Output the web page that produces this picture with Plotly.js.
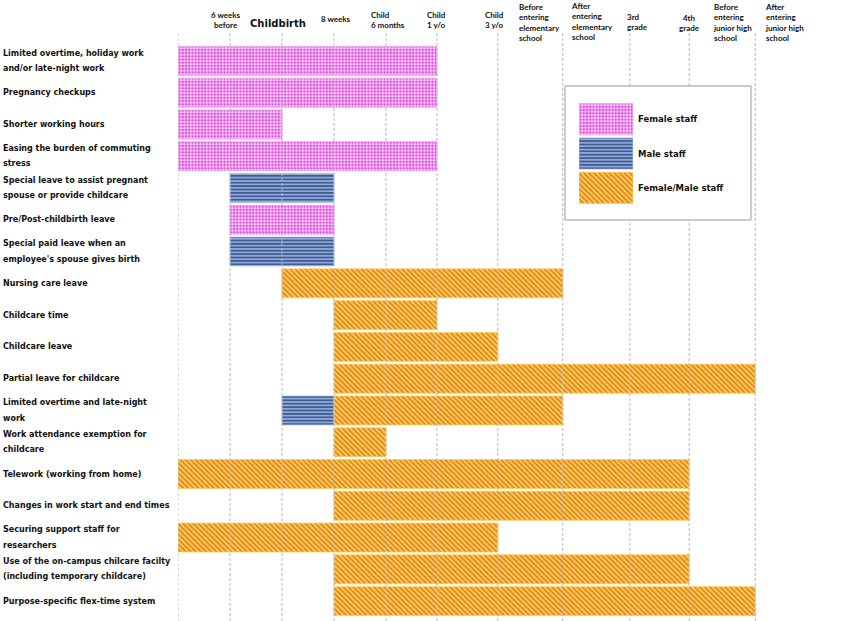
<!DOCTYPE html>
<html>
<head>
<meta charset="utf-8">
<script src="https://cdn.plot.ly/plotly-3.0.1.min.js"></script>
<style>html,body{margin:0;padding:0;background:#fff;}#chart{width:850px;height:621px;}</style>
</head>
<body>
<div id="chart"></div>
<script>
// ---------------- DATA ----------------
const rowLabels = [
  "Limited overtime, holiday work<br>and/or late-night work",
  "Pregnancy checkups",
  "Shorter working hours",
  "Easing the burden of commuting<br>stress",
  "Special leave to assist pregnant<br>spouse or provide childcare",
  "Pre/Post-childbirth leave",
  "Special paid leave when an<br>employee's spouse gives birth",
  "Nursing care leave",
  "Childcare time",
  "Childcare leave",
  "Partial leave for childcare",
  "Limited overtime and late-night<br>work",
  "Work attendance exemption for<br>childcare",
  "Telework (working from home)",
  "Changes in work start and end times",
  "Securing support staff for<br>researchers",
  "Use of the on-campus chilcare facilty<br>(including temporary childcare)",
  "Purpose-specific flex-time system"
];

const milestones = [
  "Pregnancy", "6 weeks before", "Childbirth", "8 weeks", "Child 6 months",
  "Child 1 y/o", "Child 3 y/o", "Entering elementary school", "3rd grade",
  "4th grade", "Entering junior high school"
];

const topLabels = [
  "6 weeks<br>before", "Childbirth", "8 weeks", "Child<br>6 months", "Child<br>1 y/o",
  "Child<br>3 y/o", "Before<br>entering<br>elementary<br>school",
  "After<br>entering<br>elementary<br>school", "3rd<br>grade", "4th<br>grade",
  "Before<br>entering<br>junior high<br>school", "After<br>entering<br>junior high<br>school"
];

const seriesNames = ["Female staff", "Male staff", "Female/Male staff"];

const femaleRows  = [rowLabels[0], rowLabels[1], rowLabels[2], rowLabels[3], rowLabels[5]];
const femaleStart = ["Pregnancy", "Pregnancy", "Pregnancy", "Pregnancy", "6 weeks before"];
const femaleEnd   = ["Child 1 y/o", "Child 1 y/o", "Childbirth", "Child 1 y/o", "8 weeks"];

const maleRows  = [rowLabels[4], rowLabels[6], rowLabels[11]];
const maleStart = ["6 weeks before", "6 weeks before", "Childbirth"];
const maleEnd   = ["8 weeks", "8 weeks", "8 weeks"];

const bothRows = [rowLabels[7], rowLabels[8], rowLabels[9], rowLabels[10], rowLabels[11],
  rowLabels[12], rowLabels[13], rowLabels[14], rowLabels[15], rowLabels[16], rowLabels[17]];
const bothStart = ["Childbirth", "8 weeks", "8 weeks", "8 weeks", "8 weeks",
  "8 weeks", "Pregnancy", "8 weeks", "Pregnancy", "8 weeks", "8 weeks"];
const bothEnd = ["Entering elementary school", "Child 1 y/o", "Child 3 y/o", "Entering junior high school",
  "Entering elementary school", "Child 6 months", "4th grade", "4th grade", "Child 3 y/o",
  "4th grade", "Entering junior high school"];

// ---------------- LAYOUT / SCALE ----------------
// non-uniform axis scale: position of each milestone on the x axis
const milestonePos = [0, 1, 2, 3, 4, 4.98, 6.15, 7.40, 8.69, 9.83, 11.10];
const M = {l: 178, r: 0, t: 45, b: 4};
const W = 850, H = 621;
const PW = W - M.l - M.r, PH = H - M.t - M.b;
const unitPx = 52;
const xMax = PW / unitPx;
const px2x = px => (px - M.l) / PW;
const py2y = py => (H - M.b - py) / PH;
const pos = m => milestonePos[milestones.indexOf(m)];

const styles = {
  "Female staff": {bg: "#fbcdfb", fg: "#e040e0", shape: ".", size: 3.2, sol: 0.45, line: "#f0a0f0"},
  "Male staff": {bg: "#8eaadb", fg: "#1f3a70", shape: "-", size: 3.4, sol: 0.35, line: "#a9bfe6"},
  "Female/Male staff": {bg: "#fcca5c", fg: "#de7c0c", shape: "\\", size: 3.6, sol: 0.4, line: "#fcca5c"}
};

function barTrace(name, rows, starts, ends, xa, ya) {
  const s = styles[name];
  return {
    type: "bar", orientation: "h", name: name,
    y: rows,
    base: starts.map(pos),
    x: ends.map((e, i) => pos(e) - pos(starts[i])),
    xaxis: xa, yaxis: ya,
    marker: {
      color: s.bg,
      pattern: {shape: s.shape, fgcolor: s.fg, bgcolor: s.bg, size: s.size, solidity: s.sol},
      line: {width: 0.8, color: s.line}
    },
    hoverinfo: "skip"
  };
}

const traces = [
  barTrace("Female staff", femaleRows, femaleStart, femaleEnd, "x", "y"),
  barTrace("Male staff", maleRows, maleStart, maleEnd, "x", "y"),
  barTrace("Female/Male staff", bothRows, bothStart, bothEnd, "x", "y")
];

// legend swatches (inset axes)
seriesNames.forEach(n => {
  const s = styles[n];
  traces.push({
    type: "bar", orientation: "h", y: [n], x: [1], base: [0], xaxis: "x2", yaxis: "y2",
    marker: {color: s.bg, pattern: {shape: s.shape, fgcolor: s.fg, bgcolor: s.bg, size: s.size, solidity: s.sol},
      line: {width: 0.8, color: s.line}},
    hoverinfo: "skip"
  });
});

const rowFont = {family: "DejaVu Sans", size: 8, color: "#111"};
const topFont = {family: "Lato", size: 8, color: "#111"};

const annotations = [];
// row labels, left aligned, one annotation per line
const lineOff = 7.6 / (PH / rowLabels.length);
rowLabels.forEach((lab, i) => {
  const lines = lab.split("<br>");
  lines.forEach((ln, j) => {
    const off = lines.length === 1 ? 0 : (j === 0 ? -lineOff : lineOff);
    annotations.push({
      xref: "paper", yref: "y", x: px2x(1), y: i + off, xanchor: "left", yanchor: "middle",
      text: "<b>" + ln + "</b>", showarrow: false, font: rowFont, align: "left"
    });
  });
});

// top milestone labels
const topLayout = [
  {x: 226, a: "center", y: 20}, {x: 278, a: "center", y: 23.5, big: true}, {x: 336, a: "center", y: 19},
  {x: 369, a: "left", y: 20}, {x: 425, a: "left", y: 20}, {x: 483, a: "left", y: 20.5},
  {x: 517, a: "left", y: 22.5}, {x: 569, a: "left", y: 21}, {x: 625, a: "left", y: 22.5},
  {x: 689, a: "center", y: 23}, {x: 711, a: "left", y: 22.5}, {x: 763, a: "left", y: 22.5}
];
topLabels.forEach((t, i) => {
  const L = topLayout[i];
  annotations.push({
    xref: "paper", yref: "paper", x: px2x(L.x), y: py2y(L.y), xanchor: L.a, yanchor: "middle",
    text: "<b>" + t + "</b>", showarrow: false, align: L.a,
    font: L.big ? {family: "DejaVu Sans", size: 10, color: "#111"} : topFont
  });
});

// legend texts
seriesNames.forEach(n => {
  annotations.push({
    xref: "paper", yref: "y2", x: px2x(636), y: n, xanchor: "left", yanchor: "middle",
    text: "<b>" + n + "</b>", showarrow: false, font: {family: "DejaVu Sans", size: 8.5, color: "#111"}
  });
});

// legend box
const box = {x0: 565, x1: 751, y0: 86, y1: 220};
const shapes = [{
  type: "rect", xref: "paper", yref: "paper", layer: "below",
  x0: px2x(box.x0), x1: px2x(box.x1), y0: py2y(box.y1), y1: py2y(box.y0),
  line: {color: "#9a9a9a", width: 1}, fillcolor: "#ffffff"
}];
// dashed vertical gridlines (drawn above bars, interrupted by the legend box)
const gTop = 33, gBot = 621;
milestonePos.forEach(p => {
  const px = M.l + p * unitPx;
  const segs = (px > box.x0 && px < box.x1) ? [[gTop, box.y0], [box.y1, gBot]] : [[gTop, gBot]];
  segs.forEach(sg => shapes.push({
    type: "line", xref: "x", yref: "paper", layer: "above",
    x0: p, x1: p, y0: py2y(sg[1]), y1: py2y(sg[0]),
    line: {color: "#b8b8b8", width: 1, dash: "3px,2px"}
  }));
});

const layout = {
  width: W, height: H, margin: M,
  paper_bgcolor: "#ffffff", plot_bgcolor: "rgba(0,0,0,0)",
  showlegend: false, barmode: "overlay", bargap: 0.09,
  xaxis: {range: [0, xMax], visible: false, fixedrange: true},
  yaxis: {type: "category", categoryorder: "array", categoryarray: rowLabels,
    range: [rowLabels.length - 0.5, -0.5], visible: false, fixedrange: true},
  xaxis2: {domain: [px2x(579), px2x(633)], range: [0, 1], anchor: "y2", visible: false},
  yaxis2: {domain: [py2y(205), py2y(102)], anchor: "x2", type: "category",
    categoryorder: "array", categoryarray: seriesNames, range: [2.5, -0.5], visible: false},
  annotations: annotations,
  shapes: shapes
};

Plotly.newPlot("chart", traces, layout, {displayModeBar: false, staticPlot: true});
</script>
</body>
</html>
